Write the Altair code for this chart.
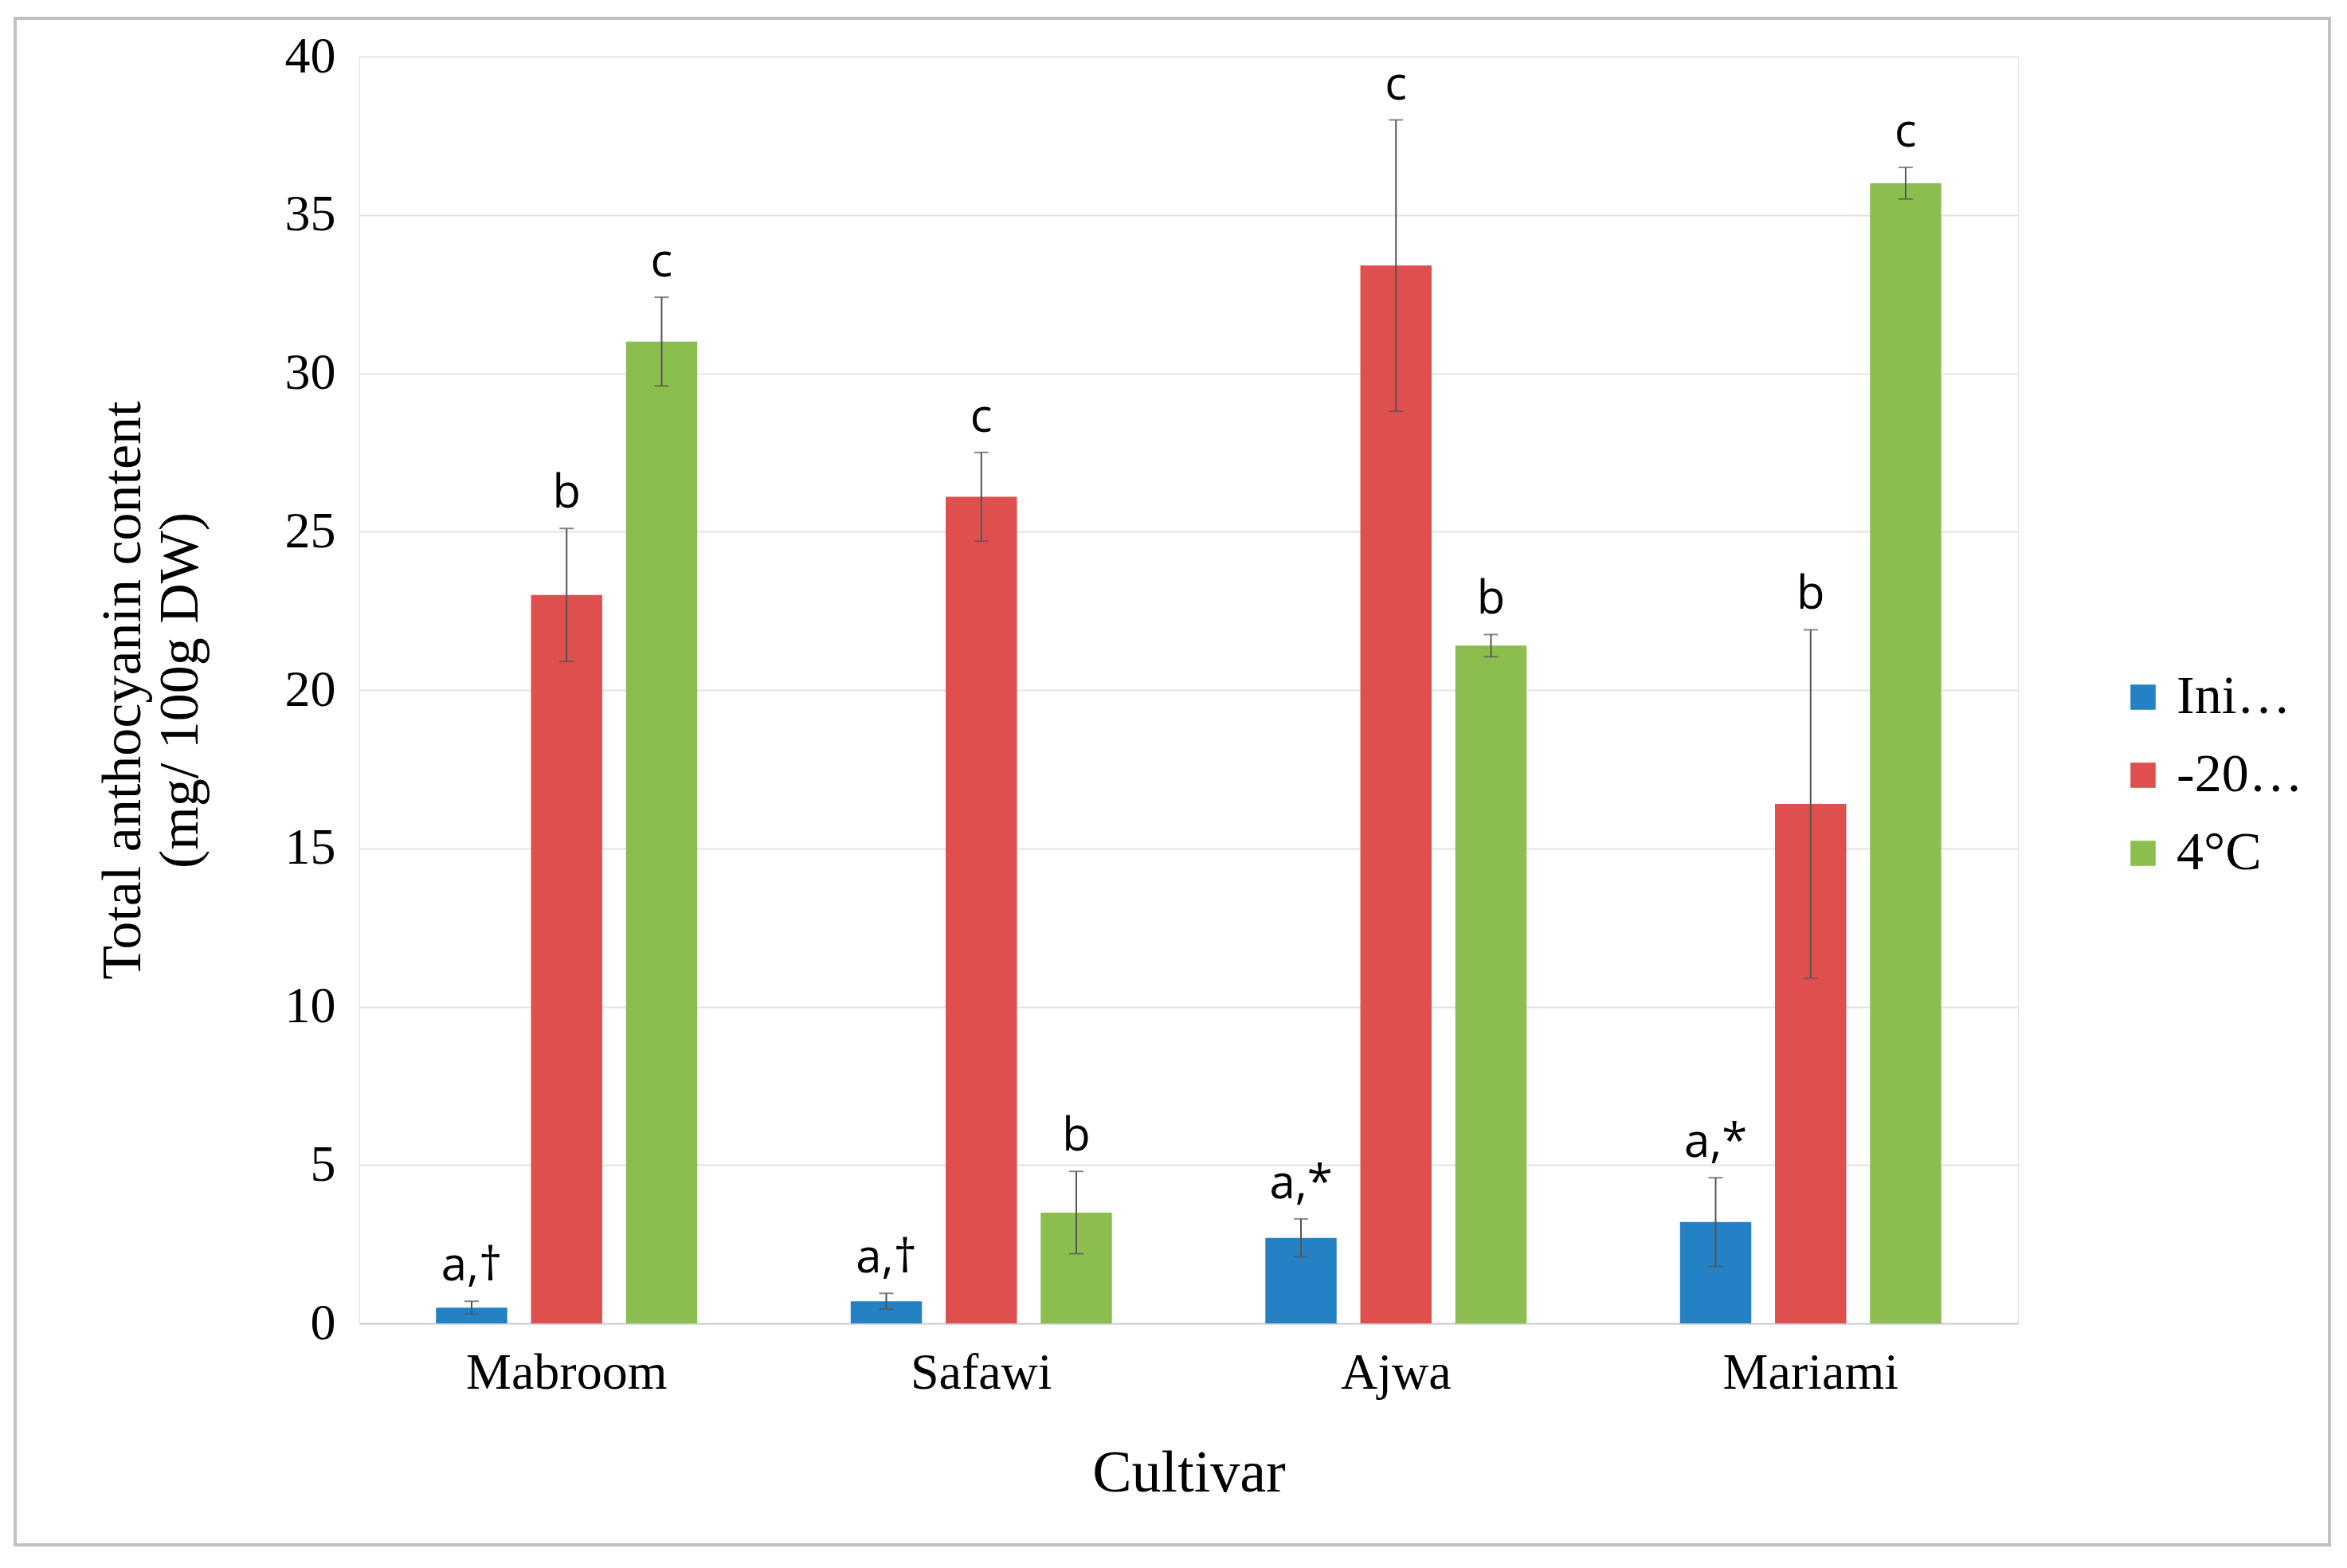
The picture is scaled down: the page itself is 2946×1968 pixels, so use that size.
import altair as alt
import pandas as pd

cultivars = ["Mabroom", "Safawi", "Ajwa", "Mariami"]
treatments = ["Initial", "-20°C", "4°C"]
colors = ["#2381c4", "#de4f4d", "#8cbd4f"]

# mean values per treatment, one entry per cultivar
initial = [0.5, 0.7, 2.7, 3.2]
minus20 = [23.0, 26.1, 33.4, 16.4]
plus4 = [31.0, 3.5, 21.4, 36.0]
# error (+/-)
err_initial = [0.2, 0.25, 0.6, 1.4]
err_minus20 = [2.1, 1.4, 4.6, 5.5]
err_plus4 = [1.4, 1.3, 0.35, 0.5]
# letters over the bars
lab_initial = ["a,†", "a,†", "a,*", "a,*"]
lab_minus20 = ["b", "c", "c", "b"]
lab_plus4 = ["c", "b", "b", "c"]

rows = []
for t, vals, errs, labs in [("Initial", initial, err_initial, lab_initial),
                            ("-20°C", minus20, err_minus20, lab_minus20),
                            ("4°C", plus4, err_plus4, lab_plus4)]:
    for c, v, e, l in zip(cultivars, vals, errs, labs):
        rows.append({"cultivar": c, "treatment": t, "value": v,
                     "lo": v - e, "hi": v + e, "label": l})
df = pd.DataFrame(rows)

serif = "Liberation Serif"
sans = "Open Sans"

x = alt.X("cultivar:N", sort=cultivars, title="Cultivar",
          scale=alt.Scale(paddingInner=0.37, paddingOuter=0.185),
          axis=alt.Axis(labelAngle=0, labelFont=serif, labelFontSize=64, labelColor="#000",
                        labelLimit=600,
                        titleFont=serif, titleFontSize=74, titleFontWeight="normal",
                        titleColor="#000", titlePadding=58, labelPadding=30,
                        ticks=False, domainColor="#d0d0d0", domainWidth=2))
xo = alt.XOffset("treatment:N", sort=treatments,
                 scale=alt.Scale(paddingInner=0.25, paddingOuter=0))

base = alt.Chart(df).encode(x=x, xOffset=xo)

bars = base.mark_bar().encode(
    y=alt.Y("value:Q", title=["Total anthocyanin content", "(mg/ 100g DW)"],
            scale=alt.Scale(domain=[0, 40]),
            axis=alt.Axis(values=list(range(0, 41, 5)), labelFont=serif, labelFontSize=64,
                          labelColor="#000", titleFont=serif, titleFontSize=70,
                          titleFontWeight="normal", titleColor="#000", titlePadding=95,
                          labelPadding=30, ticks=False, domain=False,
                          gridColor="#e3e3e3", gridWidth=2)),
    color=alt.Color("treatment:N", sort=treatments,
                    scale=alt.Scale(domain=treatments, range=colors),
                    legend=alt.Legend(title=None, orient="none", legendX=2205, legendY=770,
                                      labelFont=serif, labelFontSize=68, labelColor="#000",
                                      symbolType="square", symbolSize=1000,
                                      symbolStrokeWidth=0, rowPadding=30, labelOffset=8)),
)

rule = base.mark_rule(color="#555", strokeWidth=2).encode(y="lo:Q", y2="hi:Q")
cap_lo = base.mark_tick(color="#555", size=18, thickness=2).encode(y="lo:Q")
cap_hi = base.mark_tick(color="#555", size=18, thickness=2).encode(y="hi:Q")
text = base.mark_text(font=sans, fontSize=58, baseline="bottom", dy=-14, color="#000").encode(
    y="hi:Q", text="label:N")

frame = alt.Chart(df).mark_rect(fill=None, stroke="#c0c0c0", strokeWidth=4).encode(
    x=alt.value(-432), x2=alt.value(2473), y=alt.value(-48), y2=alt.value(1868))

chart = alt.layer(frame, bars, rule, cap_lo, cap_hi, text).properties(
    width=2082, height=1590, autosize=alt.AutoSizeParams(type="none"),
    padding={"left": 443, "top": 63, "right": 400, "bottom": 300},
).configure_view(stroke=None).configure(background="white")

chart.save("out.html", embed_options={"renderer": "svg", "actions": False})
